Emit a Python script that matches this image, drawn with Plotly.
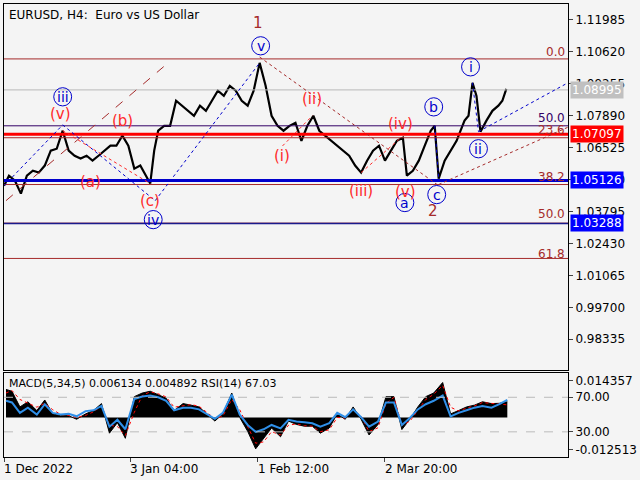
import plotly.graph_objects as go

# ---- data ----
bar_x = [0,5,11,17,23,29,35,41,47,53,59,65,71,77,83,89,95,101,107,113,119,125,131,137,143,147,151,155,161,167,173,179,185,191,197,203,209,215,221,227,233,239,245,251,257,263,269,275,281,287,293,299,305,311,317,323,329,335,341,347,353,359,365,371,377,383,389,395,401,405,411,417,423,429,433,437,443,449,455,459,463,467,471,475,479,485,491,497,501,505]
close = [1.0490,1.0533,1.0511,1.0456,1.0533,1.0554,1.0546,1.0576,1.0640,1.0648,1.0725,1.0640,1.0618,1.0606,1.0618,1.0597,1.0618,1.0640,1.0661,1.0661,1.0704,1.0661,1.0563,1.0576,1.0533,1.0499,1.0640,1.0725,1.0746,1.0746,1.0853,1.0832,1.0810,1.0789,1.0832,1.0810,1.0853,1.0896,1.0874,1.0917,1.0896,1.0853,1.0832,1.0896,1.1015,1.0917,1.0789,1.0746,1.0725,1.0746,1.0759,1.0682,1.0746,1.0789,1.0725,1.0704,1.0682,1.0661,1.0640,1.0618,1.0576,1.0546,1.0597,1.0640,1.0661,1.0597,1.0640,1.0682,1.0695,1.0533,1.0554,1.0597,1.0661,1.0725,1.0746,1.0520,1.0597,1.0640,1.0682,1.0725,1.0768,1.0789,1.0930,1.0874,1.0721,1.0768,1.0810,1.0832,1.0853,1.0904]

ind_x = [2,8,16,24,33,41,49,57,65,73,82,90,98,106,114,122,131,139,147,155,163,171,180,188,196,204,212,220,229,237,245,253,261,269,278,286,294,302,310,318,327,335,343,351,359,367,376,384,392,400,408,416,424,432,441,449,457,465,473,481,490,498,506]
macd_hist = [0.0109,0.0102,0.0041,0.0061,0.0027,0.0068,0.0014,0.0007,0.0007,-0.0007,0.0014,0.0027,0.0054,-0.0061,-0.0020,-0.0081,0.0081,0.0095,0.0102,0.0088,0.0075,0.0027,0.0054,0.0048,0.0041,0.0014,-0.0014,0.0014,0.0095,0.0000,-0.0054,-0.0122,-0.0081,-0.0041,-0.0075,-0.0014,-0.0027,-0.0034,-0.0034,-0.0061,-0.0041,0.0014,-0.0007,0.0041,-0.0007,-0.0068,-0.0027,0.0081,0.0081,-0.0047,-0.0007,0.0041,0.0081,0.0095,0.0136,0.0014,0.0027,0.0041,0.0048,0.0061,0.0054,0.0055,0.0061]
macd_signal = [0.0095,0.0105,0.0070,0.0055,0.0040,0.0055,0.0030,0.0012,0.0008,0.0000,0.0008,0.0022,0.0045,-0.0030,-0.0035,-0.0070,0.0020,0.0085,0.0100,0.0092,0.0080,0.0040,0.0045,0.0050,0.0044,0.0020,-0.0005,0.0005,0.0070,0.0030,-0.0035,-0.0100,-0.0095,-0.0055,-0.0068,-0.0030,-0.0025,-0.0032,-0.0034,-0.0055,-0.0048,0.0000,-0.0002,0.0030,0.0005,-0.0055,-0.0040,0.0055,0.0078,-0.0030,-0.0015,0.0030,0.0070,0.0090,0.0125,0.0040,0.0025,0.0036,0.0045,0.0058,0.0055,0.0054,0.0049]
rsi = [66,64,52,58,50,62,52,50,51,48,54,55,60,36,44,33,68,71,72,70,66,55,58,58,56,50,45,52,73,50,38,30,33,38,34,44,42,41,40,36,40,52,47,56,47,36,42,64,64,38,46,56,62,66,72,48,52,55,58,60,58,62,67]

price_ticks = [1.11985,1.10620,1.09255,1.07890,1.06525,1.05160,1.03795,1.02430,1.01065,0.99700,0.98335]
date_ticks_x = [0,127,255,383]
date_labels = ["1 Dec 2022","3 Jan 04:00","1 Feb 12:00","2 Mar 20:00"]

BG = "#f4f4f4"
RED = "#ff2a2a"
BROWN = "#a52a2a"
NAVY = "#0000cc"
FONT = "DejaVu Sans"

fig = go.Figure()
fig.add_trace(go.Scatter(x=bar_x, y=close, mode="lines", line=dict(color="black", width=2.2),
                         xaxis="x", yaxis="y", showlegend=False))
fig.add_trace(go.Scatter(x=ind_x, y=macd_hist, mode="lines", fill="tozeroy", fillcolor="black",
                         line=dict(color="black", width=1), xaxis="x2", yaxis="y2", showlegend=False))
fig.add_trace(go.Scatter(x=ind_x, y=macd_signal, mode="lines", line=dict(color="red", width=1, dash="dot"),
                         xaxis="x2", yaxis="y2", showlegend=False))
fig.add_trace(go.Scatter(x=ind_x, y=rsi, mode="lines", line=dict(color="#2f8fe8", width=2),
                         xaxis="x2", yaxis="y3", showlegend=False))

shapes = []
def hline(y, color, w):
    shapes.append(dict(type="line", xref="x", yref="y", x0=0, x1=567, y0=y, y1=y, line=dict(color=color, width=w)))
hline(1.1032, BROWN, 1)
hline(1.08995, "#b8b8b8", 1)
hline(1.0746, "#330066", 1)
hline(1.0695, BROWN, 1)
hline(1.07097, "red", 3)
hline(1.0495, BROWN, 1)
hline(1.05126, NAVY, 3)
hline(1.0330, BROWN, 1)
hline(1.03288, "#1a1a8c", 1.5)
hline(1.0179, BROWN, 1)

def seg(x0, y0, x1, y1, color, dash):
    shapes.append(dict(type="line", xref="x", yref="y", x0=x0, y0=y0, x1=x1, y1=y1,
                       line=dict(color=color, width=1, dash=dash)))
seg(2, 1.0426, 165, 1.1015, BROWN, "dash")
seg(0, 1.0490, 59, 1.0750, NAVY, "dot")
seg(59, 1.0750, 152, 1.0426, NAVY, "dot")
seg(152, 1.0426, 257, 1.1015, NAVY, "dot")
seg(59, 1.0725, 147, 1.0499, RED, "dot")
seg(257, 1.1040, 437, 1.0490, BROWN, "dot")
seg(437, 1.0495, 567, 1.0740, BROWN, "dot")
seg(477, 1.0721, 567, 1.0930, NAVY, "dot")
seg(280, 1.0660, 310, 1.0789, RED, "dot")
seg(359, 1.0546, 399, 1.0695, RED, "dot")
seg(433, 1.0746, 437, 1.0520, NAVY, "dot")
seg(471, 1.0930, 477, 1.0721, NAVY, "dot")
for v in [70, 30]:
    shapes.append(dict(type="line", xref="x2", yref="y3", x0=0, x1=567, y0=v, y1=v,
                       line=dict(color="#bbbbbb", width=1, dash="dash")))

ann = []
def red(x, y, t, c=RED, size=15):
    ann.append(dict(x=x, y=y, xref="x", yref="y", text=t, showarrow=False,
                    font=dict(family=FONT, size=size, color=c)))
def circ(x, y, t):
    ann.append(dict(x=x, y=y, xref="x", yref="y", text=t, showarrow=False,
                    font=dict(family=FONT, size=14, color=NAVY)))
    shapes.append(dict(type="circle", xref="x", yref="y", x0=x-9, x1=x+9, y0=y-0.0039, y1=y+0.0039,
                       line=dict(color=NAVY, width=1)))

red(255, 1.1186, "1", BROWN)
circ(258, 1.1088, "v")
circ(59, 1.0870, "iii")
red(57, 1.0797, "(v)")
red(119, 1.0768, "(b)")
red(87, 1.0507, "(a)")
red(147, 1.0426, "(c)")
circ(150, 1.0345, "iv")
red(279, 1.0618, "(i)")
red(310, 1.0861, "(ii)")
red(359, 1.0469, "(iii)")
red(399, 1.0755, "(iv)")
red(404, 1.0461, "(v)")
circ(403, 1.0418, "a")
red(431, 1.0384, "2", BROWN)
circ(435, 1.0452, "c")
circ(432, 1.0827, "b")
circ(469, 1.0998, "i")
circ(477, 1.0648, "ii")

def fib(y, t, c=BROWN):
    ann.append(dict(x=566, y=y, xref="x", yref="y", text=t, showarrow=False, xanchor="right",
                    font=dict(family=FONT, size=12, color=c)))
fib(1.1062, "0.0")
fib(1.0780, "50.0", "#330066")
fib(1.0727, "23.6")
fib(1.0529, "38.2")
fib(1.0371, "50.0")
fib(1.0200, "61.8")

def box(y, t, bg, fc="white"):
    ann.append(dict(x=1.0, y=y, xref="paper", yref="y", text=t, showarrow=False, xanchor="left",
                    bgcolor=bg, font=dict(family=FONT, size=12, color=fc), borderpad=1, xshift=2))
box(1.08995, "1.08995", "#c0c0c0")
box(1.07097, "1.07097", "#ff0000")
box(1.05126, "1.05126", "#0000ff")
box(1.03288, "1.03288", "#0000ff")

ann.append(dict(x=0.005, y=0.995, xref="paper", yref="paper", xanchor="left", yanchor="top", showarrow=False,
                text="EURUSD, H4:  Euro vs US Dollar", font=dict(family=FONT, size=12, color="black")))
ann.append(dict(x=0.005, y=0.182, xref="paper", yref="paper", xanchor="left", yanchor="top", showarrow=False,
                text="MACD(5,34,5) 0.006134 0.004892 RSI(14) 67.03", font=dict(family=FONT, size=11, color="black")))
for xv, lab in zip(date_ticks_x, date_labels):
    ann.append(dict(x=xv, y=0, xref="x2", yref="paper", xanchor="left", yanchor="top", showarrow=False,
                    text=lab, yshift=-3, xshift=-2, font=dict(family=FONT, size=12, color="black")))

axis_common = dict(showgrid=False, zeroline=False, showline=True, linecolor="black", mirror=True)
tf = dict(family=FONT, size=12, color="black")
fig.update_layout(
    width=640, height=480, paper_bgcolor=BG, plot_bgcolor=BG,
    margin=dict(l=3, r=70, t=3, b=23),
    shapes=shapes, annotations=ann,
    font=dict(family=FONT, size=12, color="black"),
    xaxis=dict(domain=[0, 1], range=[0, 567], anchor="y", showticklabels=False, ticks="", **axis_common),
    yaxis=dict(domain=[0.1916, 1], range=[0.97013, 1.12667], side="right", tickvals=price_ticks,
               ticktext=[f"{v:.5f}" for v in price_ticks], ticks="outside", ticklen=4, tickfont=tf, **axis_common),
    xaxis2=dict(domain=[0, 1], range=[0, 567], anchor="y2", showticklabels=False, tickvals=date_ticks_x,
                ticks="outside", ticklen=4, **axis_common),
    yaxis2=dict(domain=[0, 0.185], range=[-0.01536, 0.01721], side="right", tickvals=[0.014357, -0.012513],
                ticktext=["0.014357", "-0.012513"], ticks="outside", ticklen=4, tickfont=tf, **axis_common),
    yaxis3=dict(overlaying="y2", range=[0.9, 97.9], side="right", tickvals=[70, 30],
                ticktext=["70.00", "30.00"], ticks="outside", ticklen=4, tickfont=tf, showgrid=False, zeroline=False),
)
fig.write_html("out.html", config={"displayModeBar": False},
               post_script="document.body.style.margin='0';document.body.style.background='#f4f4f4';")
